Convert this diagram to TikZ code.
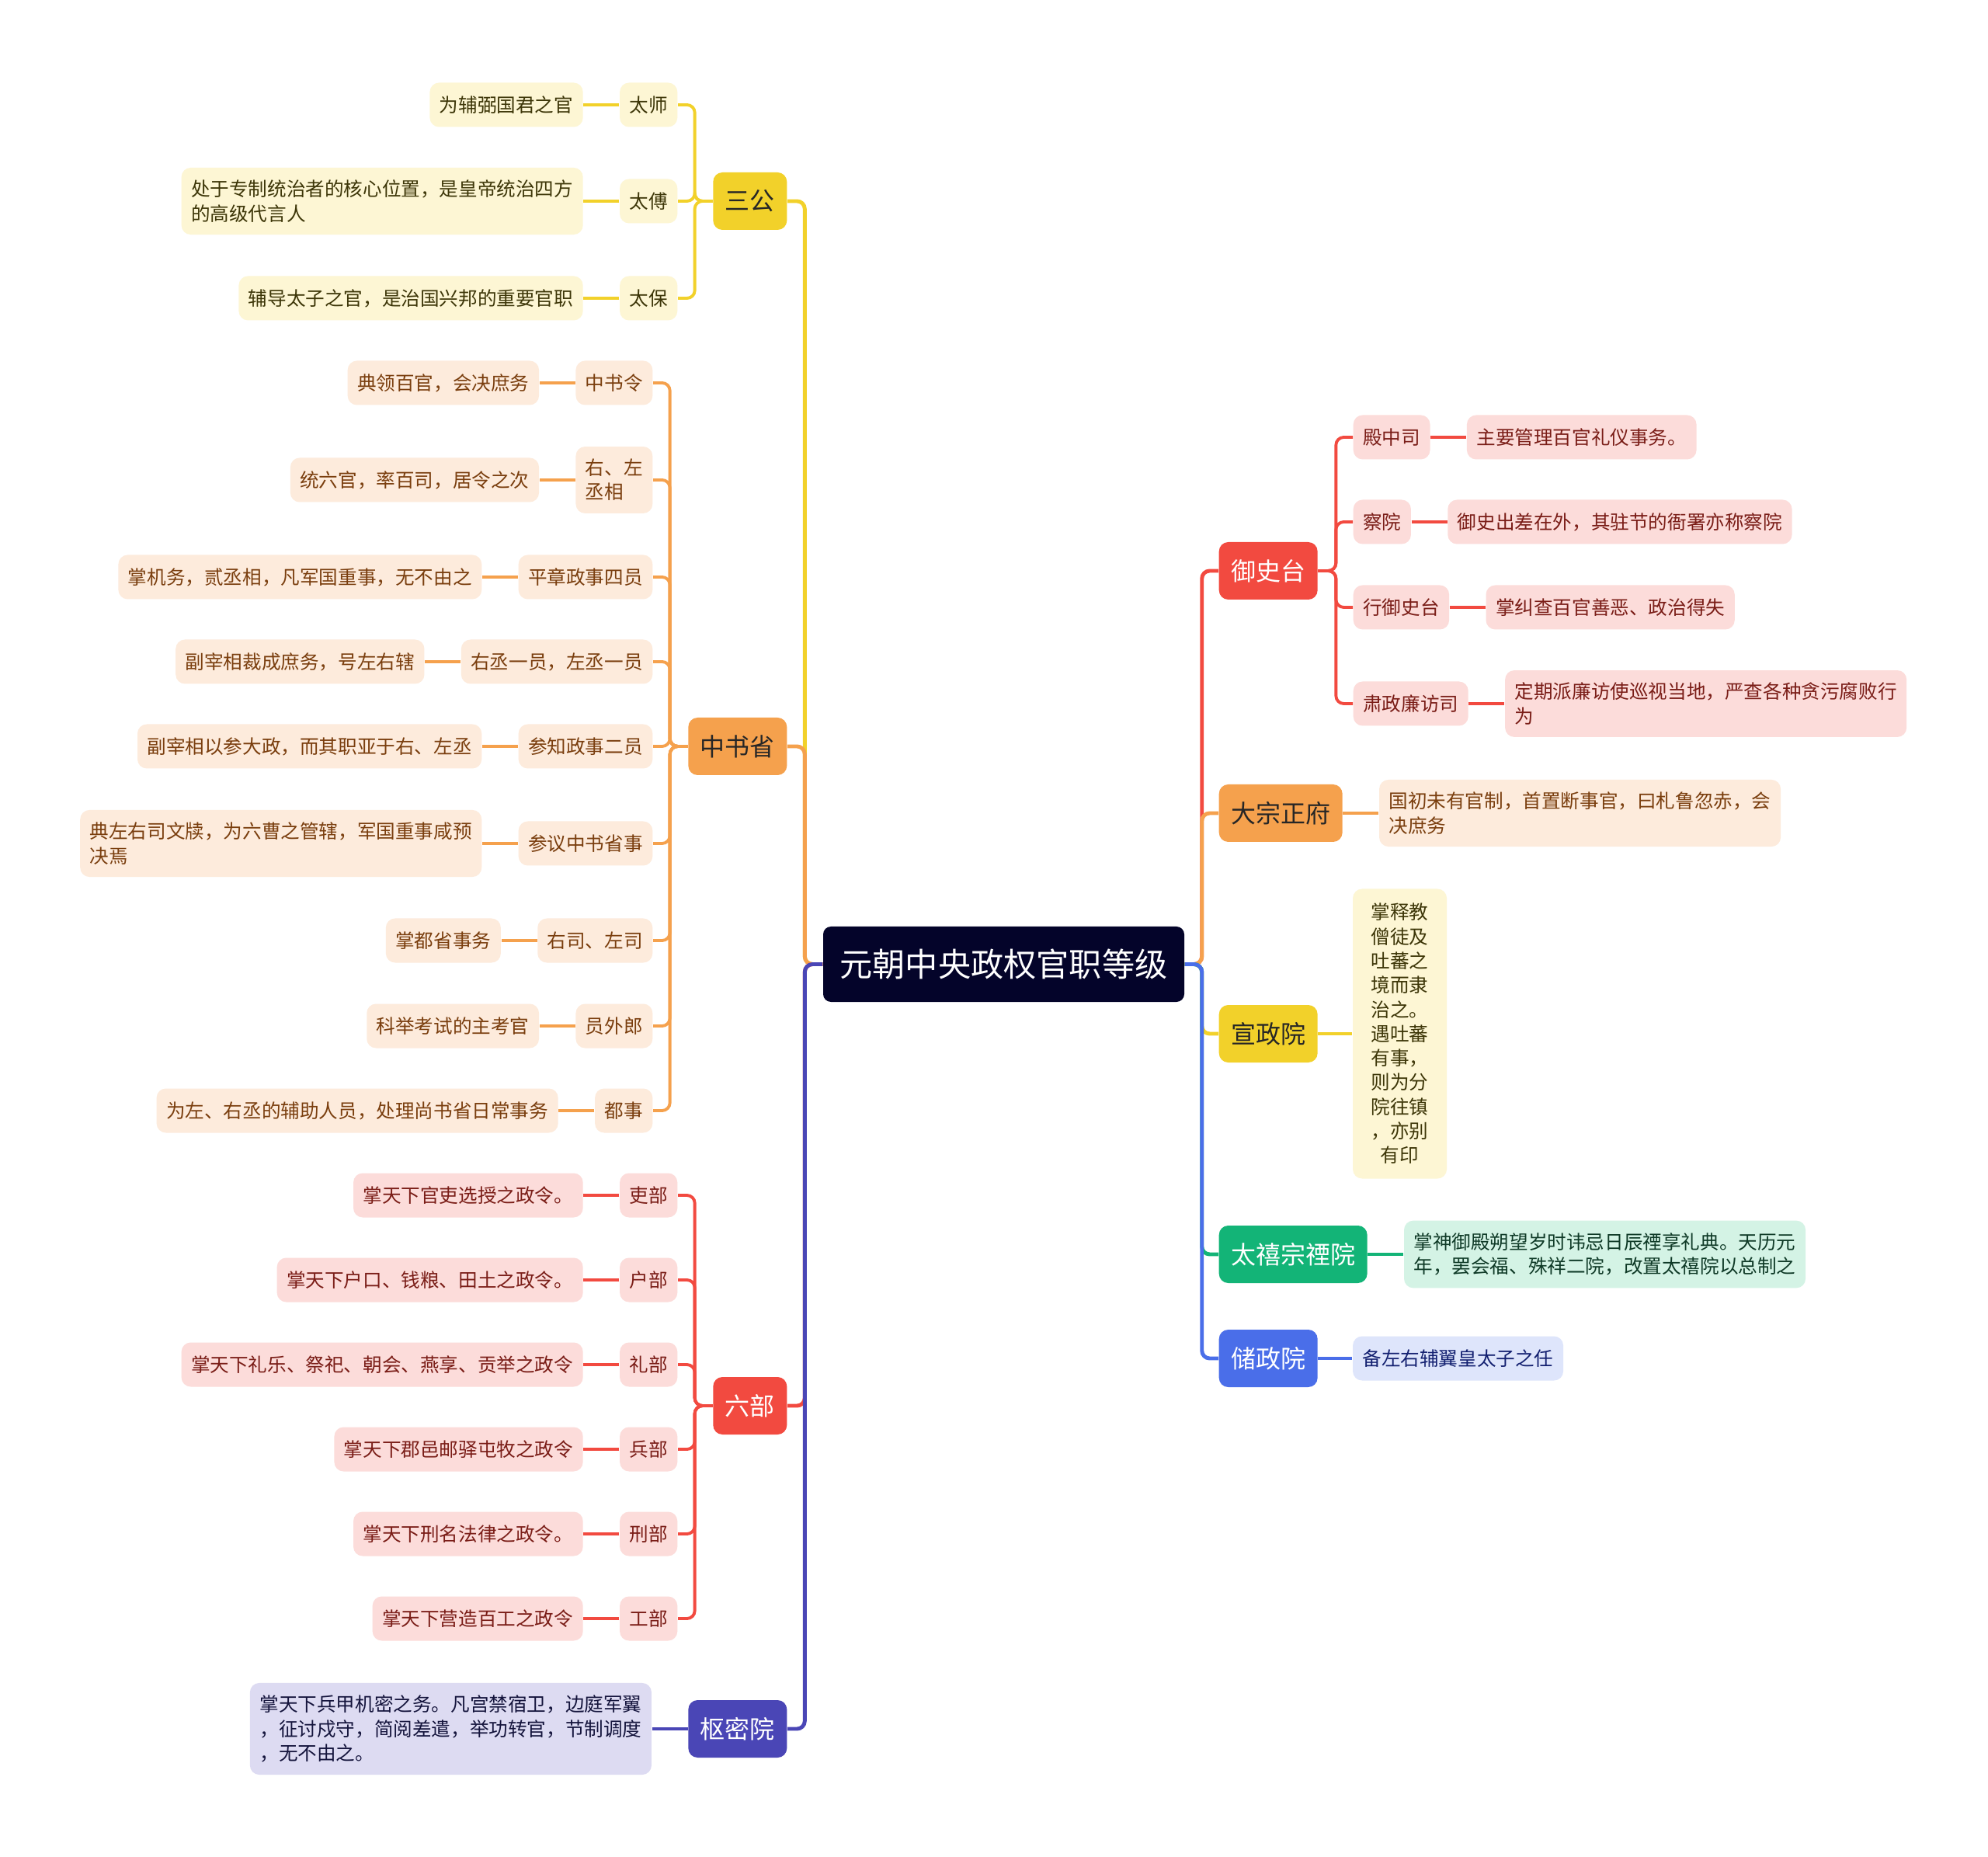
\documentclass[tikz,border=0pt]{standalone}
\usepackage{fontspec}
\setmainfont{Noto Sans CJK SC}
\usepackage{tikz}
\usetikzlibrary{positioning}
\definecolor{rootnavy}{HTML}{04042A}
\definecolor{ylw}{HTML}{F2D12A}
\definecolor{ylwlight}{HTML}{FDF6D4}
\definecolor{ylwtext}{HTML}{3D3608}
\definecolor{org}{HTML}{F5A14D}
\definecolor{orglight}{HTML}{FDEBDC}
\definecolor{orgtext}{HTML}{7A3E0E}
\definecolor{rd}{HTML}{F24A40}
\definecolor{rdlight}{HTML}{FCDCDA}
\definecolor{rdtext}{HTML}{7A1D17}
\definecolor{prp}{HTML}{4A46B6}
\definecolor{prplight}{HTML}{DDDBF2}
\definecolor{prptext}{HTML}{14143C}
\definecolor{grn}{HTML}{13B477}
\definecolor{grnlight}{HTML}{D4F3E5}
\definecolor{grntext}{HTML}{0F3A27}
\definecolor{blu}{HTML}{4A6EE9}
\definecolor{blulight}{HTML}{DEE5FB}
\definecolor{blutext}{HTML}{132070}
\newcommand{\cellfont}{\fontsize{7}{8.9}\selectfont}
\newcommand{\branchfont}{\fontsize{9.1}{11}\selectfont}
\newcommand{\rootfont}{\fontsize{12}{14}\selectfont}
\tikzset{rootbox/.style={rectangle,rounded corners=.1cm,fill=rootnavy,text=white,
 font=\rootfont,minimum width=4.65cm,minimum height=.97cm,inner sep=0pt},
 branch/.style={rectangle,rounded corners=.12cm,fill=#1,text=black!85,
 font=\branchfont,minimum height=.74cm,inner xsep=.155cm,inner ysep=0pt},
 cell/.style={rectangle,rounded corners=.12cm,fill=#1light,text=#1text,
 font=\cellfont,minimum height=.57cm,inner xsep=.125cm,inner ysep=.16cm,align=left},
 trunk/.style={draw=#1,line width=1.4pt,rounded corners=.1cm},
 link/.style={draw=#1,line width=1.1pt,rounded corners=.1cm}}
\newcommand{\leftrow}[6]{%
 \node[cell=#4,anchor=east] (#1) at (#2,#3) {#5};
 \node[cell=#4,left=.46cm of #1] (#1d) {#6};
 \draw[link=#4] (#1.west) -- (#1d.east);}
\newcommand{\rightrow}[6]{%
 \node[cell=#4,anchor=west] (#1) at (#2,#3) {#5};
 \node[cell=#4,right=.46cm of #1] (#1d) {#6};
 \draw[link=#4] (#1.east) -- (#1d.west);}

\begin{document}
\begin{tikzpicture}[x=1cm,y=1cm]
 \fill[white] (0,0) rectangle (25.6,-23.91);
 \useasboundingbox (0,0) rectangle (25.6,-23.91);
 \node[rootbox] (root) at (12.925,-12.415) {元朝中央政权官职等级};
 % left side
 \node[branch=ylw,anchor=east] (sg) at (10.14,-2.59) {三公};
 \leftrow{sg1}{8.73}{-1.35}{ylw}{太师}{为辅弼国君之官}
 \leftrow{sg2}{8.73}{-2.59}{ylw}{太傅}{处于专制统治者的核心位置，是皇帝统治四方\\的高级代言人}
 \leftrow{sg3}{8.73}{-3.84}{ylw}{太保}{辅导太子之官，是治国兴邦的重要官职}
 \foreach \i in {1,2,3} \draw[link=ylw] (sg.west) -- ++(-.23,0) |- (sg\i.east);

 \node[branch=org,anchor=east] (zs) at (10.14,-9.61) {中书省};
 \leftrow{zs1}{8.41}{-4.93}{org}{中书令}{典领百官，会决庶务}
 \leftrow{zs2}{8.41}{-6.18}{org}{右、左\\丞相}{统六官，率百司，居令之次}
 \leftrow{zs3}{8.41}{-7.43}{org}{平章政事四员}{掌机务，贰丞相，凡军国重事，无不由之}
 \leftrow{zs4}{8.41}{-8.52}{org}{右丞一员，左丞一员}{副宰相裁成庶务，号左右辖}
 \leftrow{zs5}{8.41}{-9.61}{org}{参知政事二员}{副宰相以参大政，而其职亚于右、左丞}
 \leftrow{zs6}{8.41}{-10.86}{org}{参议中书省事}{典左右司文牍，为六曹之管辖，军国重事咸预\\决焉}
 \leftrow{zs7}{8.41}{-12.11}{org}{右司、左司}{掌都省事务}
 \leftrow{zs8}{8.41}{-13.21}{org}{员外郎}{科举考试的主考官}
 \leftrow{zs9}{8.41}{-14.30}{org}{都事}{为左、右丞的辅助人员，处理尚书省日常事务}
 \foreach \i in {1,...,9} \draw[link=org] (zs.west) -- ++(-.23,0) |- (zs\i.east);

 \node[branch=rd,text=white,anchor=east] (lb) at (10.14,-18.10) {六部};
 \leftrow{lb1}{8.73}{-15.39}{rd}{吏部}{掌天下官吏选授之政令。}
 \leftrow{lb2}{8.73}{-16.48}{rd}{户部}{掌天下户口、钱粮、田土之政令。}
 \leftrow{lb3}{8.73}{-17.57}{rd}{礼部}{掌天下礼乐、祭祀、朝会、燕享、贡举之政令}
 \leftrow{lb4}{8.73}{-18.66}{rd}{兵部}{掌天下郡邑邮驿屯牧之政令}
 \leftrow{lb5}{8.73}{-19.75}{rd}{刑部}{掌天下刑名法律之政令。}
 \leftrow{lb6}{8.73}{-20.84}{rd}{工部}{掌天下营造百工之政令}
 \foreach \i in {1,...,6} \draw[link=rd] (lb.west) -- ++(-.23,0) |- (lb\i.east);

 \node[branch=prp,text=white,anchor=east] (smy) at (10.14,-22.26) {枢密院};
 \node[cell=prp,left=.46cm of smy] (smy1)
  {掌天下兵甲机密之务。凡宫禁宿卫，边庭军翼\\，征讨戍守，简阅差遣，举功转官，节制调度\\，无不由之。};
 \draw[link=prp] (smy.west) -- (smy1.east);

 \draw[trunk=ylw] (root.west) -- ++(-.23,0) |- (sg.east);
 \draw[trunk=org] (root.west) -- ++(-.23,0) |- (zs.east);
 \draw[trunk=rd] (root.west) -- ++(-.23,0) |- (lb.east);
 \draw[trunk=prp] (root.west) -- ++(-.23,0) |- (smy.east);

 % right side
 \node[branch=rd,text=white,anchor=west] (yst) at (15.69,-7.35) {御史台};
 \rightrow{yst1}{17.42}{-5.63}{rd}{殿中司}{主要管理百官礼仪事务。}
 \rightrow{yst2}{17.42}{-6.72}{rd}{察院}{御史出差在外，其驻节的衙署亦称察院}
 \rightrow{yst3}{17.42}{-7.82}{rd}{行御史台}{掌纠查百官善恶、政治得失}
 \rightrow{yst4}{17.42}{-9.06}{rd}{肃政廉访司}{定期派廉访使巡视当地，严查各种贪污腐败行\\为}
 \foreach \i in {1,...,4} \draw[link=rd] (yst.east) -- ++(.23,0) |- (yst\i.west);

 \node[branch=org,anchor=west] (dzz) at (15.69,-10.47) {大宗正府};
 \node[cell=org,right=.46cm of dzz] (dzz1)
  {国初未有官制，首置断事官，曰札鲁忽赤，会\\决庶务};
 \draw[link=org] (dzz.east) -- (dzz1.west);

 \node[branch=ylw,anchor=west] (xzy) at (15.69,-13.31) {宣政院};
 \node[cell=ylw,align=center,minimum width=1.21cm,minimum height=3.73cm,
  right=.44cm of xzy] (xzy1)
  {掌释教\\僧徒及\\吐蕃之\\境而隶\\治之。\\遇吐蕃\\有事，\\则为分\\院往镇\\，亦别\\有印};
 \draw[link=ylw] (xzy.east) -- (xzy1.west);

 \node[branch=grn,text=white,anchor=west] (txy) at (15.69,-16.15) {太禧宗禋院};
 \node[cell=grn,right=.46cm of txy] (txy1)
  {掌神御殿朔望岁时讳忌日辰禋享礼典。天历元\\年，罢会福、殊祥二院，改置太禧院以总制之};
 \draw[link=grn] (txy.east) -- (txy1.west);

 \node[branch=blu,text=white,anchor=west] (czy) at (15.69,-17.49) {储政院};
 \node[cell=blu,right=.44cm of czy] (czy1) {备左右辅翼皇太子之任};
 \draw[link=blu] (czy.east) -- (czy1.west);

 \draw[trunk=rd] (root.east) -- ++(.22,0) |- (yst.west);
 \draw[trunk=org] (root.east) -- ++(.22,0) |- (dzz.west);
 \draw[trunk=ylw] (root.east) -- ++(.22,0) |- (xzy.west);
 \draw[trunk=grn] (root.east) -- ++(.22,0) |- (txy.west);
 \draw[trunk=blu] (root.east) -- ++(.22,0) |- (czy.west);
\end{tikzpicture}
\end{document}
